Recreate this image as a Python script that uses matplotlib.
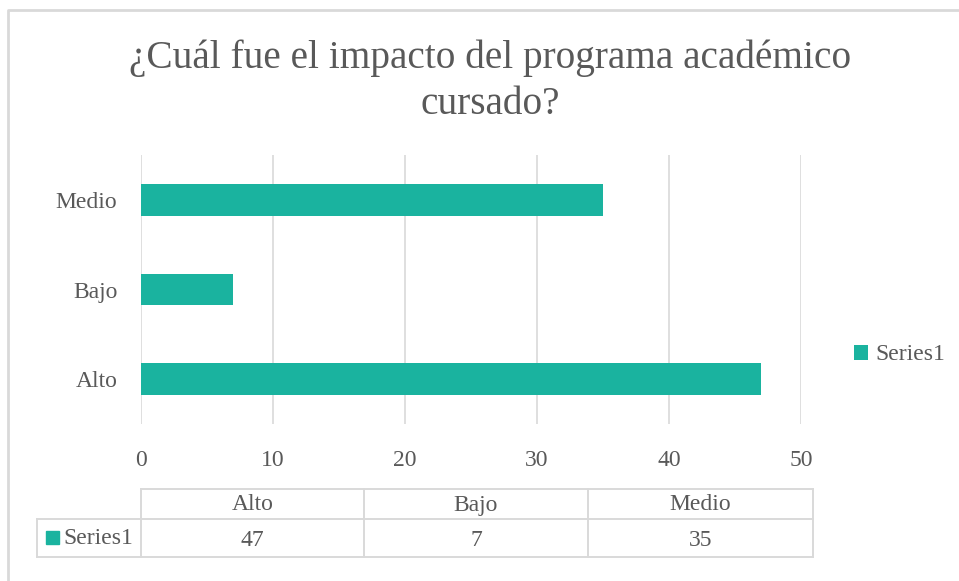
import matplotlib.pyplot as plt
from matplotlib.patches import Rectangle

# datos del grafico
categorias = ['Alto', 'Bajo', 'Medio']
valores = [47, 7, 35]
serie = 'Series1'
ticks_x = [0, 10, 20, 30, 40, 50]

COLOR = '#1AB39F'
GRIS = '#595959'
LINEA = '#D9D9D9'
W, H = 959, 581

plt.rcParams['font.family'] = ['Liberation Serif', 'DejaVu Serif']

fig = plt.figure(figsize=(W / 100, H / 100), dpi=100)

# area del grafico (en pixeles del original)
x0, x1, ytop, ybot = 141, 801, 155, 424
ax = fig.add_axes([x0 / W, 1 - ybot / H, (x1 - x0) / W, (ybot - ytop) / H])
ax.barh(range(len(categorias)), valores, height=0.355, color=COLOR, label=serie, zorder=3)
ax.set_xlim(0, 50)
ax.set_ylim(-0.5, len(categorias) - 0.5)
ax.set_xticks(ticks_x)
ax.set_yticks(range(len(categorias)))
ax.set_yticklabels(categorias)
ax.grid(axis='x', color=LINEA, linewidth=1.2, zorder=0)
for s in ax.spines.values():
    s.set_visible(False)
ax.tick_params(axis='both', length=0, colors=GRIS, labelsize=17)
ax.tick_params(axis='x', pad=19)
ax.tick_params(axis='y', pad=17)

fig.text(490 / W, 1 - 81 / H, '¿Cuál fue el impacto del programa académico\ncursado?',
         ha='center', va='center', fontsize=28.3, color=GRIS, linespacing=1.33)

fig.legend(loc='center left', bbox_to_anchor=(854 / W, 1 - 355 / H), frameon=False,
           fontsize=17, labelcolor=GRIS, handlelength=0.6, handleheight=0.6,
           handletextpad=0.3, borderaxespad=0, borderpad=0)

# capa para el borde y la tabla de datos, en coordenadas de pixel
ov = fig.add_axes([0, 0, 1, 1], zorder=-1)
ov.set_xlim(0, W)
ov.set_ylim(H, 0)
ov.axis('off')
ov.plot([8, 8, W], [H, 10, 10], color=LINEA, linewidth=2)

cols = [141, 364, 588, 813]
fila_h = [489, 519, 557]
lab_x = 37
lw = 1.4
ov.plot([cols[0], cols[-1]], [fila_h[0], fila_h[0]], color=LINEA, lw=lw)
ov.plot([lab_x, cols[-1]], [fila_h[1], fila_h[1]], color=LINEA, lw=lw)
ov.plot([lab_x, cols[-1]], [fila_h[2], fila_h[2]], color=LINEA, lw=lw)
ov.plot([lab_x, lab_x], [fila_h[1], fila_h[2]], color=LINEA, lw=lw)
for c in cols:
    ov.plot([c, c], [fila_h[0], fila_h[2]], color=LINEA, lw=lw)
for i, cat in enumerate(categorias):
    cx = (cols[i] + cols[i + 1]) / 2
    ov.text(cx, (fila_h[0] + fila_h[1]) / 2 + 1, cat, ha='center', va='center',
            fontsize=17, color=GRIS)
    ov.text(cx, (fila_h[1] + fila_h[2]) / 2 + 2, str(valores[i]), ha='center', va='center',
            fontsize=17, color=GRIS)
ov.add_patch(Rectangle((46, 531), 13, 13, color=COLOR))
ov.text(63, (fila_h[1] + fila_h[2]) / 2, serie, ha='left', va='center', fontsize=17, color=GRIS)

fig.savefig('out.png', dpi=100)
